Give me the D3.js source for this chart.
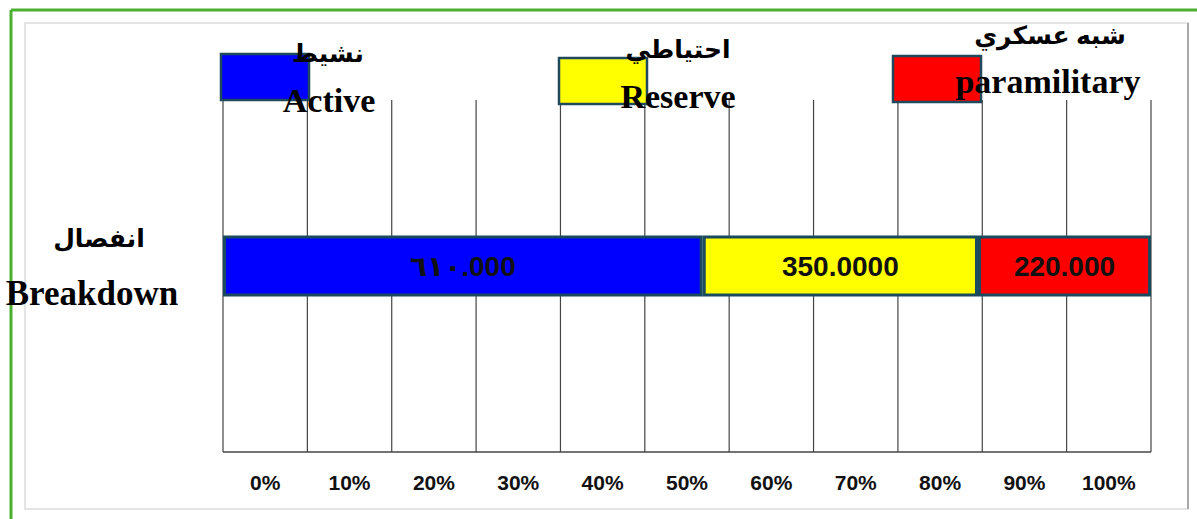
<!DOCTYPE html>
<html>
<head>
<meta charset="utf-8">
<script src="https://cdn.jsdelivr.net/npm/d3@7.9.0/dist/d3.min.js"></script>
<style>
  html, body { margin: 0; padding: 0; background: #fff; }
  svg { display: block; }
  .serif { font-family: "Liberation Serif", "Times New Roman", "DejaVu Sans", serif; font-weight: bold; }
  .sans { font-family: "Liberation Sans", Arial, "DejaVu Sans", sans-serif; font-weight: bold; }
</style>
</head>
<body>
<svg id="chart" width="1197" height="519"></svg>
<script>
// data
const seriesEn = ['Active', 'Reserve', 'paramilitary'];
const seriesAr = ['نشيط', 'احتياطي', 'شبه عسكري'];
const values = [610, 350, 220];
const valueLabels = ['٦١٠.000', '350.0000', '220.000'];
const seriesColors = ['#0000ff', '#ffff00', '#ff0000'];
const tickLabels = ['0%', '10%', '20%', '30%', '40%', '50%', '60%', '70%', '80%', '90%', '100%'];
const categoryEn = ['Breakdown'];
const categoryAr = ['انفصال'];

const W = 1197, H = 519;
const plotLeft = 223, plotRight = 1151, plotTop = 100, plotBottom = 452;
const barY = 237, barH = 58;

const svg = d3.select('#chart');

// frames
svg.append('rect').attr('x', 25).attr('y', 23).attr('width', 1163).attr('height', 486)
  .attr('fill', '#fff').attr('stroke', '#e4e4e4').attr('stroke-width', 2);
svg.append('line').attr('x1', 1188).attr('x2', 1188).attr('y1', 23).attr('y2', 509)
  .attr('stroke', '#a8a8a8').attr('stroke-width', 2);
svg.append('line').attr('x1', 11).attr('x2', W).attr('y1', 10).attr('y2', 10)
  .attr('stroke', '#4caf32').attr('stroke-width', 3);
svg.append('line').attr('x1', 11).attr('x2', 11).attr('y1', 10).attr('y2', H)
  .attr('stroke', '#4caf32').attr('stroke-width', 3);

// scales
const band = d3.scaleBand().domain(tickLabels).range([plotLeft, plotRight]).padding(0);
const total = d3.sum(values);
const x = d3.scaleLinear().domain([0, total]).range([plotLeft, plotRight]);

// grid lines at band edges
const edges = tickLabels.map(d => band(d)).concat([plotRight]);
svg.append('g').selectAll('line').data(edges).join('line')
  .attr('x1', d => d).attr('x2', d => d)
  .attr('y1', plotTop).attr('y2', plotBottom)
  .attr('stroke', '#444').attr('stroke-width', 1.2);
svg.append('line').attr('x1', plotLeft).attr('x2', plotRight).attr('y1', plotBottom).attr('y2', plotBottom)
  .attr('stroke', '#444').attr('stroke-width', 1.5);

// tick labels
svg.append('g').selectAll('text').data(tickLabels).join('text')
  .attr('class', 'sans')
  .attr('x', d => band(d) + band.bandwidth() / 2)
  .attr('y', 490)
  .attr('text-anchor', 'middle')
  .attr('font-size', 21)
  .attr('fill', '#111')
  .text(d => d);

// stacked bar
const stack = [];
let acc = 0;
values.forEach((v, i) => { stack.push({ x0: acc, x1: acc + v, i }); acc += v; });

svg.append('g').selectAll('rect').data(stack).join('rect')
  .attr('x', d => x(d.x0) + 1.5)
  .attr('y', barY)
  .attr('width', d => x(d.x1) - x(d.x0) - 3)
  .attr('height', barH)
  .attr('fill', d => seriesColors[d.i])
  .attr('stroke', '#1a4a5e')
  .attr('stroke-width', 3);

svg.append('g').selectAll('text').data(stack).join('text')
  .attr('class', 'sans')
  .attr('x', d => (x(d.x0) + x(d.x1)) / 2)
  .attr('y', barY + barH / 2 + 10)
  .attr('text-anchor', 'middle')
  .attr('font-size', 28)
  .attr('fill', '#111')
  .text(d => valueLabels[d.i]);

// category label
svg.append('text').attr('class', 'serif')
  .attr('x', 99).attr('y', 247).attr('text-anchor', 'middle')
  .attr('font-size', 25).attr('fill', '#000').text(categoryAr[0]);
svg.append('text').attr('class', 'serif')
  .attr('x', 92).attr('y', 305).attr('text-anchor', 'middle')
  .attr('font-size', 35).attr('fill', '#000').text(categoryEn[0]);

// legend
const legendLayout = [
  { sx: 221, sy: 54, arX: 328, arY: 62, enX: 329, enY: 112 },
  { sx: 559, sy: 58, arX: 678, arY: 58, enX: 678, enY: 108 },
  { sx: 893, sy: 56, arX: 1050, arY: 44, enX: 1048, enY: 93 }
];
const lg = svg.append('g').selectAll('g').data(seriesEn).join('g');
lg.append('rect')
  .attr('x', (d, i) => legendLayout[i].sx)
  .attr('y', (d, i) => legendLayout[i].sy)
  .attr('width', 88).attr('height', 46)
  .attr('fill', (d, i) => seriesColors[i])
  .attr('stroke', '#1f4a5e').attr('stroke-width', 2.5);
lg.append('text').attr('class', 'serif')
  .attr('x', (d, i) => legendLayout[i].arX)
  .attr('y', (d, i) => legendLayout[i].arY)
  .attr('text-anchor', 'middle').attr('font-size', 25).attr('fill', '#000')
  .text((d, i) => seriesAr[i]);
lg.append('text').attr('class', 'serif')
  .attr('x', (d, i) => legendLayout[i].enX)
  .attr('y', (d, i) => legendLayout[i].enY)
  .attr('text-anchor', 'middle').attr('font-size', 34).attr('fill', '#000')
  .text(d => d);
</script>
</body>
</html>
